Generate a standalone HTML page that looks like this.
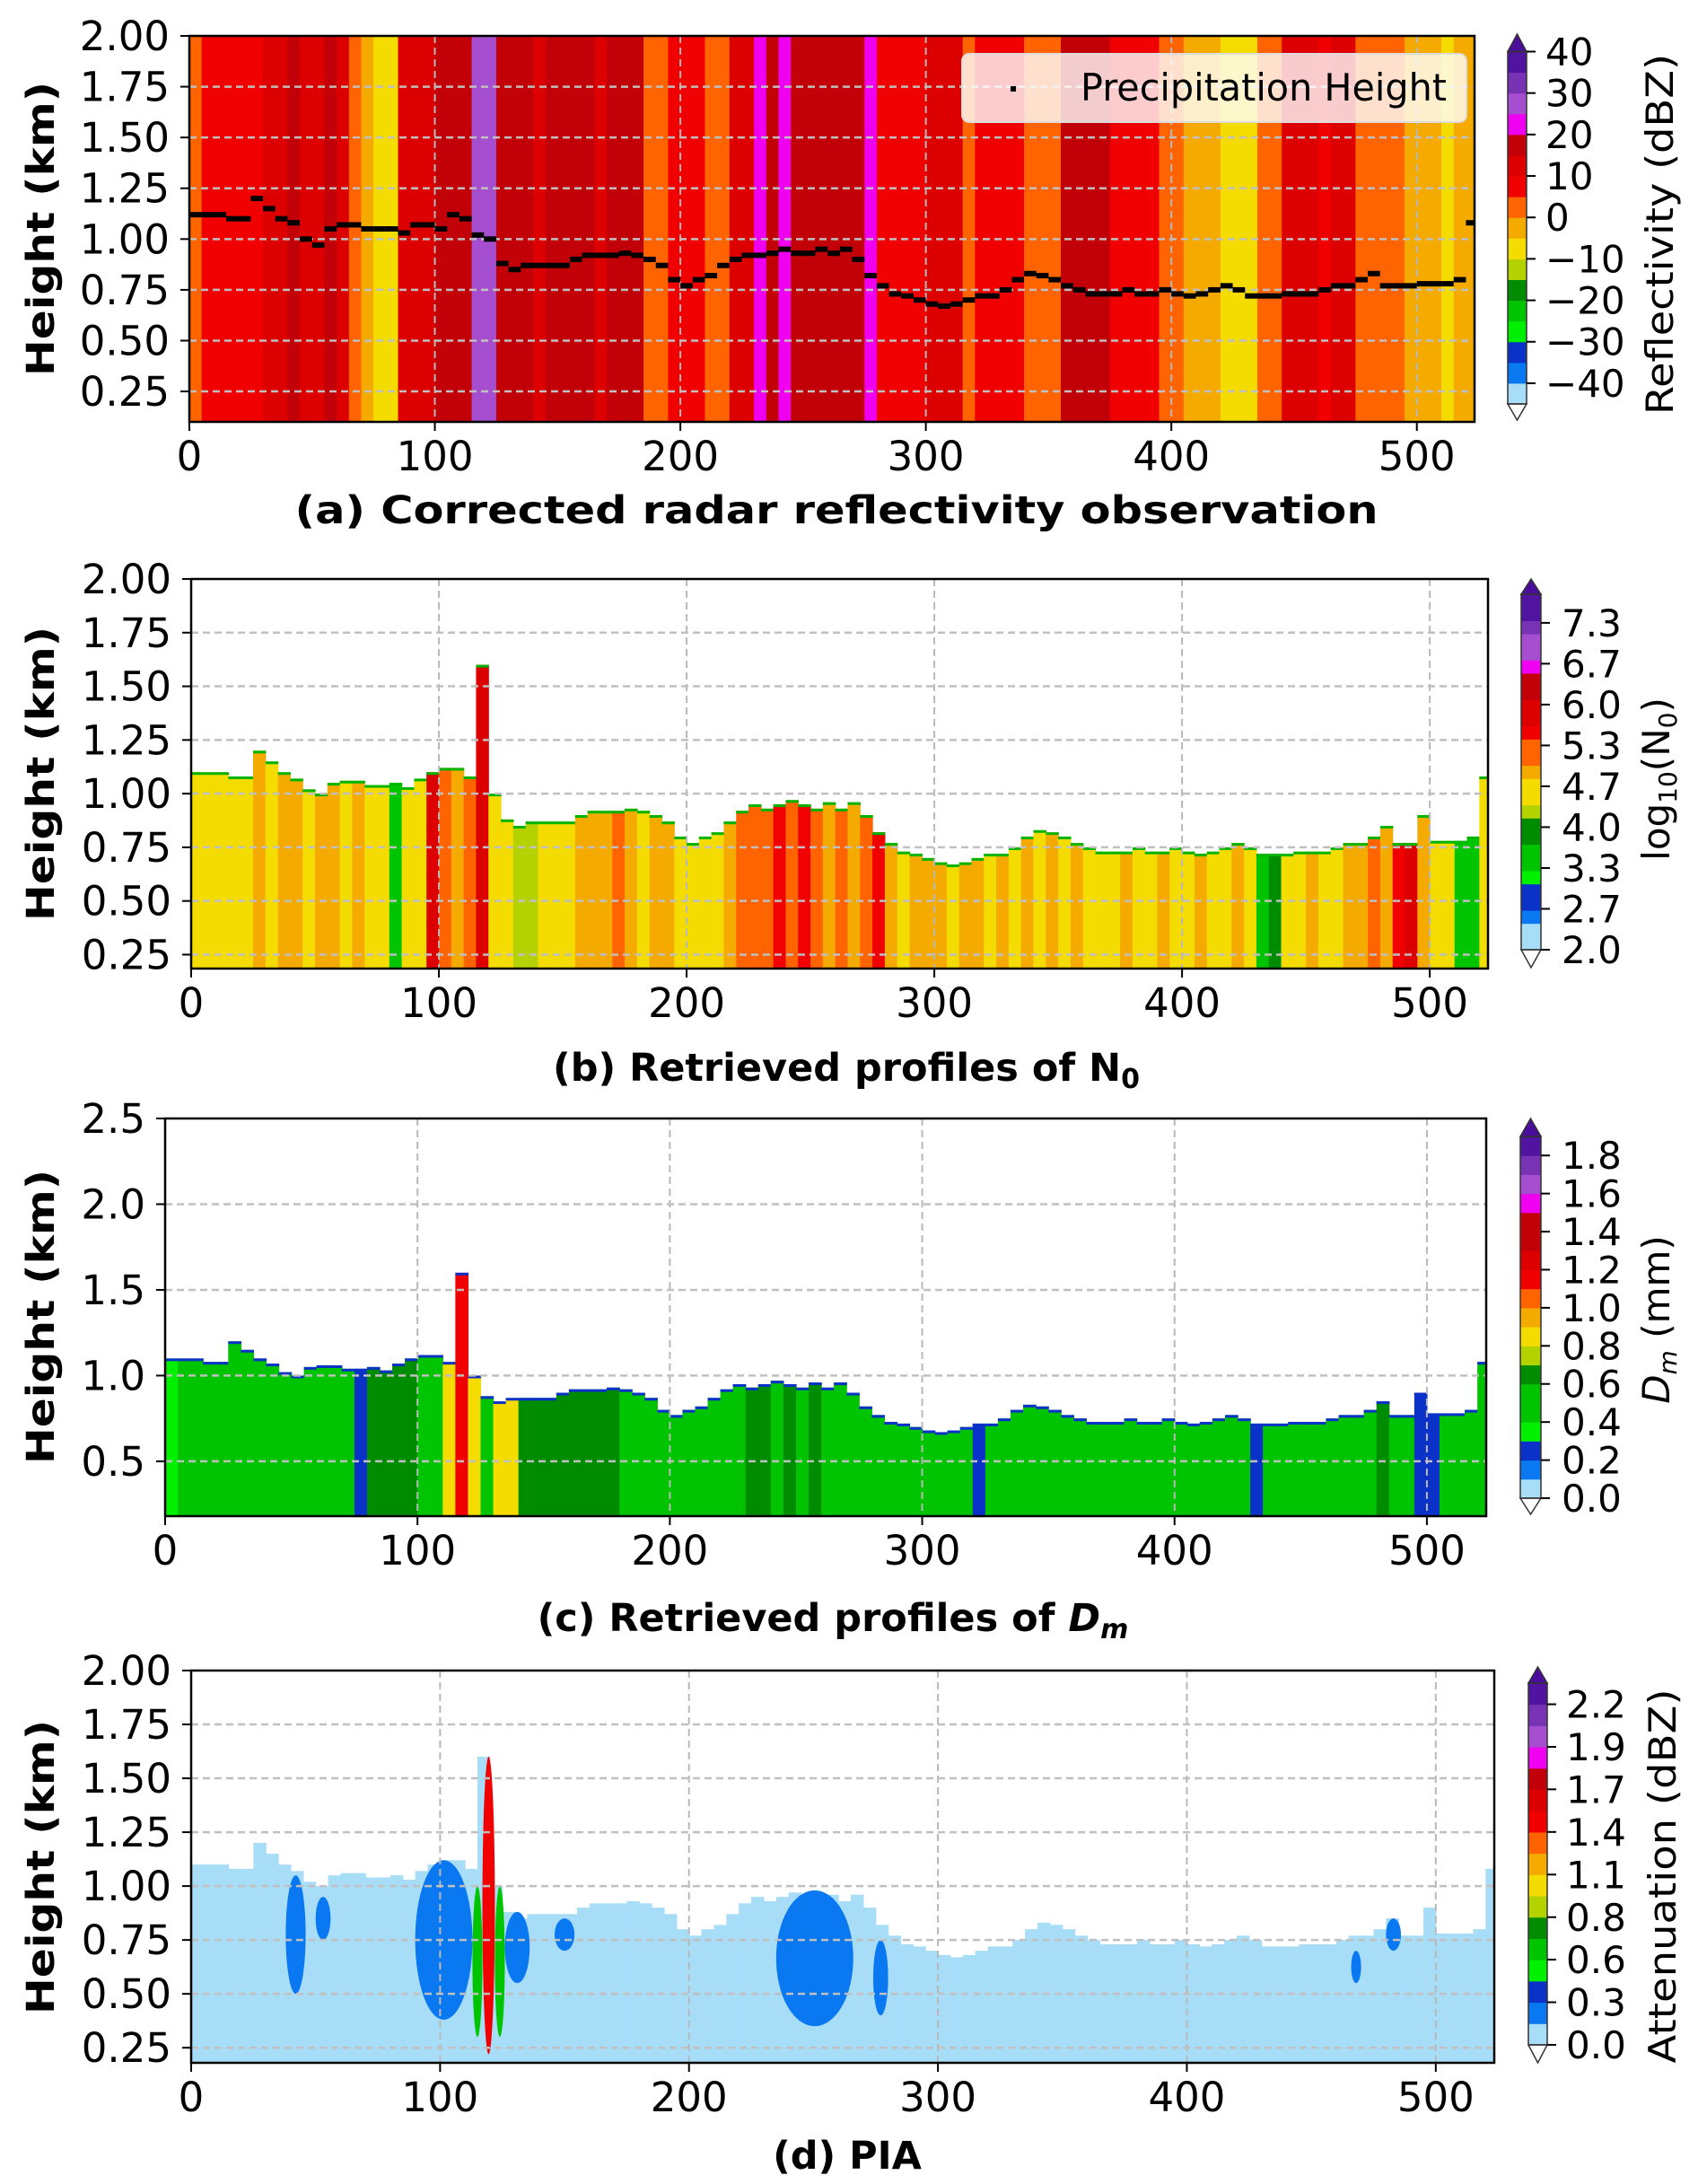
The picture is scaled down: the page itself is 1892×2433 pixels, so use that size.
<!DOCTYPE html>
<html>
<head>
<meta charset="utf-8">
<style>
html,body{margin:0;padding:0;background:#fff;}
svg{display:block;font-family:"DejaVu Sans","Liberation Sans",sans-serif;}
.tick{font-size:45px;fill:#000;}
.cbt{font-size:42px;fill:#000;}
.ttl{font-size:43px;font-weight:bold;fill:#000;}
</style>
</head>
<body>
<svg id="fig" width="1892" height="2433" viewBox="0 0 1892 2433" xmlns="http://www.w3.org/2000/svg">
  <g id="layer"></g>
  <!-- Titles -->
  <text class="ttl" x="932" y="583" text-anchor="middle" textLength="1207" lengthAdjust="spacingAndGlyphs">(a) Corrected radar reflectivity observation</text>
  <text class="ttl" x="943" y="1204" text-anchor="middle">(b) Retrieved profiles of N<tspan font-size="30" dy="8">0</tspan></text>
  <text class="ttl" x="928" y="1817" text-anchor="middle">(c) Retrieved profiles of <tspan font-style="italic">D</tspan><tspan font-style="italic" font-size="30" dy="8">m</tspan></text>
  <text class="ttl" x="944" y="2416" text-anchor="middle">(d) PIA</text>
  <!-- Y axis labels -->
  <text class="ttl" transform="translate(60,255) rotate(-90)" text-anchor="middle" textLength="328" lengthAdjust="spacingAndGlyphs">Height (km)</text>
  <text class="ttl" transform="translate(60,862) rotate(-90)" text-anchor="middle" textLength="328" lengthAdjust="spacingAndGlyphs">Height (km)</text>
  <text class="ttl" transform="translate(60,1467) rotate(-90)" text-anchor="middle" textLength="328" lengthAdjust="spacingAndGlyphs">Height (km)</text>
  <text class="ttl" transform="translate(60,2080) rotate(-90)" text-anchor="middle" textLength="328" lengthAdjust="spacingAndGlyphs">Height (km)</text>
  <!-- Colorbar labels -->
  <text class="cbt" transform="translate(1864,261) rotate(-90)" text-anchor="middle" textLength="402" lengthAdjust="spacingAndGlyphs">Reflectivity (dBZ)</text>
  <text class="cbt" transform="translate(1860,868) rotate(-90)" text-anchor="middle">log<tspan font-size="28" dy="8">10</tspan><tspan dy="-8">(N</tspan><tspan font-size="28" dy="8">0</tspan><tspan dy="-8">)</tspan></text>
  <text class="cbt" transform="translate(1860,1470) rotate(-90)" text-anchor="middle"><tspan font-style="italic">D</tspan><tspan font-style="italic" font-size="28" dy="8">m</tspan><tspan dy="-8"> (mm)</tspan></text>
  <text class="cbt" transform="translate(1867,2090) rotate(-90)" text-anchor="middle" textLength="417" lengthAdjust="spacingAndGlyphs">Attenuation (dBZ)</text>
</svg>
<script>
// ---------- DATA (5-unit bins from 0 to 523.5) ----------
const binStart = [0,5,10,15,20,25,30,35,40,45,50,55,60,65,70,75,80,85,90,95,100,105,110,115,120,125,130,135,140,145,150,155,160,165,170,175,180,185,190,195,200,205,210,215,220,225,230,235,240,245,250,255,260,265,270,275,280,285,290,295,300,305,310,315,320,325,330,335,340,345,350,355,360,365,370,375,380,385,390,395,400,405,410,415,420,425,430,435,440,445,450,455,460,465,470,475,480,485,490,495,500,505,510,515,520];
const reflectivity = [2,7,7,7,7,7,12,12,17,12,12,17,12,2,-3,-8,-8,12,12,12,17,17,17,27,27,17,17,17,12,17,17,17,17,12,17,17,17,2,2,7,7,7,2,2,12,12,22,17,22,17,17,17,17,17,17,22,7,7,7,7,12,12,12,2,7,7,7,7,2,2,2,17,17,17,17,7,7,7,7,2,2,-3,-3,-3,-8,-8,-8,2,2,12,12,12,7,12,12,2,2,2,2,-3,-3,-3,-8,-3,-3];
const precipHeight = [1.12,1.12,1.12,1.1,1.1,1.2,1.15,1.1,1.08,1.0,0.97,1.05,1.07,1.07,1.05,1.05,1.05,1.03,1.07,1.07,1.05,1.12,1.1,1.02,1.0,0.88,0.85,0.87,0.87,0.87,0.87,0.9,0.92,0.92,0.92,0.93,0.92,0.9,0.87,0.8,0.77,0.8,0.82,0.87,0.9,0.92,0.92,0.93,0.95,0.93,0.93,0.95,0.93,0.95,0.9,0.82,0.77,0.73,0.72,0.7,0.68,0.67,0.68,0.7,0.72,0.72,0.75,0.8,0.83,0.82,0.8,0.77,0.75,0.73,0.73,0.73,0.75,0.73,0.73,0.75,0.73,0.72,0.73,0.75,0.77,0.75,0.72,0.72,0.72,0.73,0.73,0.73,0.75,0.77,0.77,0.8,0.83,0.77,0.77,0.77,0.78,0.78,0.78,0.8,1.08];
const echoTop = [1.1,1.1,1.1,1.08,1.08,1.2,1.15,1.1,1.07,1.02,1.0,1.05,1.06,1.06,1.04,1.04,1.05,1.03,1.07,1.1,1.12,1.12,1.08,1.6,1.0,0.88,0.85,0.87,0.87,0.87,0.87,0.9,0.92,0.92,0.92,0.93,0.92,0.9,0.87,0.8,0.77,0.8,0.82,0.87,0.92,0.95,0.93,0.95,0.97,0.95,0.93,0.96,0.93,0.96,0.9,0.82,0.77,0.73,0.72,0.7,0.68,0.67,0.68,0.7,0.72,0.72,0.75,0.8,0.83,0.82,0.8,0.77,0.75,0.73,0.73,0.73,0.75,0.73,0.73,0.75,0.73,0.72,0.73,0.75,0.77,0.75,0.72,0.72,0.72,0.73,0.73,0.73,0.75,0.77,0.77,0.8,0.85,0.77,0.77,0.9,0.78,0.78,0.78,0.8,1.08];
const logN0 = [4.6,4.6,4.6,4.6,4.6,5.0,4.6,5.0,5.0,4.6,5.0,5.0,4.6,5.0,4.6,4.6,3.5,4.6,4.6,5.7,5.3,5.0,5.3,5.8,4.6,4.6,4.3,4.3,4.6,4.6,4.6,5.0,5.0,5.0,5.3,5.0,4.6,5.0,5.0,4.6,4.6,4.6,4.6,5.0,5.3,5.3,5.3,5.6,5.3,5.6,5.3,5.0,5.3,5.0,5.3,5.6,5.0,4.6,5.0,5.0,5.0,4.6,5.0,5.0,4.6,5.0,4.6,5.0,4.6,5.0,4.6,5.0,4.6,4.6,4.6,5.0,4.6,4.6,5.0,4.6,4.6,5.0,4.6,4.6,5.0,4.6,3.5,3.8,4.6,4.6,5.0,4.6,4.6,5.0,5.0,5.3,5.0,5.6,5.7,5.0,4.6,4.6,3.6,3.6,4.6];
const dmValues = [0.35,0.45,0.45,0.45,0.45,0.55,0.45,0.45,0.55,0.55,0.55,0.55,0.55,0.55,0.45,0.25,0.65,0.65,0.65,0.65,0.55,0.55,0.85,1.1,0.85,0.55,0.85,0.85,0.65,0.65,0.65,0.65,0.65,0.65,0.65,0.65,0.55,0.55,0.55,0.55,0.45,0.45,0.55,0.55,0.55,0.55,0.65,0.65,0.55,0.65,0.55,0.65,0.55,0.55,0.55,0.55,0.45,0.45,0.45,0.45,0.45,0.45,0.45,0.45,0.25,0.45,0.55,0.55,0.45,0.55,0.45,0.55,0.55,0.45,0.45,0.55,0.45,0.45,0.55,0.45,0.45,0.55,0.45,0.45,0.55,0.45,0.25,0.55,0.45,0.45,0.55,0.45,0.45,0.55,0.45,0.55,0.65,0.45,0.45,0.25,0.25,0.45,0.45,0.45,0.45];
const piaBase = 0.05;
const blobX0 = [38,50,90,113,117,122,126,146,235,274,466,480];
const blobX1 = [46,56,113,117,122,126,136,154,266,280,470,486];
const blobTop = [1.05,0.95,1.12,1.0,1.6,1.0,0.88,0.85,0.98,0.75,0.7,0.85];
const blobBottom = [0.5,0.75,0.38,0.3,0.22,0.3,0.55,0.7,0.35,0.4,0.55,0.7];
const blobValue = [0.2,0.2,0.2,0.6,1.5,0.6,0.2,0.2,0.2,0.2,0.2,0.2];

const xTicks = [0,100,200,300,400,500];
const yTicksAB = [0.25,0.5,0.75,1.0,1.25,1.5,1.75,2.0];
const yTickLabelsAB = ["0.25","0.50","0.75","1.00","1.25","1.50","1.75","2.00"];
const yTicksC = [0.5,1.0,1.5,2.0,2.5];
const yTickLabelsC = ["0.5","1.0","1.5","2.0","2.5"];
const cbTicksA = [-40,-30,-20,-10,0,10,20,30,40];
const cbLabelsA = ["\u221240","\u221230","\u221220","\u221210","0","10","20","30","40"];
const cbTicksB = [2.0,2.667,3.333,4.0,4.667,5.333,6.0,6.667,7.333];
const cbLabelsB = ["2.0","2.7","3.3","4.0","4.7","5.3","6.0","6.7","7.3"];
const cbTicksC = [0,0.2,0.4,0.6,0.8,1.0,1.2,1.4,1.6,1.8];
const cbLabelsC = ["0.0","0.2","0.4","0.6","0.8","1.0","1.2","1.4","1.6","1.8"];
const cbTicksD = [0,0.278,0.556,0.833,1.111,1.389,1.667,1.944,2.222];
const cbLabelsD = ["0.0","0.3","0.6","0.8","1.1","1.4","1.7","1.9","2.2"];

// ---------- STYLE ----------
const palette = ['#a8ddf8','#0a78f0','#0a32c8','#00f000','#00c400','#008c00','#b4d200','#f5dc00','#f5aa00','#ff6400','#f00000','#dc0000','#c20008','#f000f0','#a64ed0','#7832b4','#5014a0'];
const NS = "http://www.w3.org/2000/svg";
const layer = document.getElementById('layer');
const XMAX = 523.5;
function mk(tag, attrs){const e=document.createElementNS(NS,tag);for(const k in attrs)e.setAttribute(k,attrs[k]);layer.appendChild(e);return e;}

const panels = {
  a:{L:211,R:1643,T:40,B:470,ymin:0.1,ymax:2.0,vmin:-45,vmax:40,nseg:17,cbx:1680,cbw:21,cbTop:57.5,cbBot:450,tipT:38,tipB:468,labX:1722},
  b:{L:213,R:1658,T:645,B:1079,ymin:0.185,ymax:2.0,vmin:2.0,vmax:7.8,nseg:27,cbx:1695,cbw:22,cbTop:662,cbBot:1058,tipT:645,tipB:1078,labX:1740},
  c:{L:184,R:1656,T:1246,B:1689,ymin:0.18,ymax:2.5,vmin:0,vmax:1.9,nseg:19,cbx:1694,cbw:23,cbTop:1266,cbBot:1669,tipT:1246,tipB:1687,labX:1740},
  d:{L:213,R:1665,T:1861,B:2298,ymin:0.18,ymax:2.0,vmin:0,vmax:2.36,nseg:17,cbx:1703,cbw:21,cbTop:1875,cbBot:2278,tipT:1857,tipB:2298,labX:1745}
};
function xs(p,v){return p.L+v/XMAX*(p.R-p.L);}
function ys(p,v){return p.B-(v-p.ymin)/(p.ymax-p.ymin)*(p.B-p.T);}
function cmap(p,v){let k=Math.floor((v-p.vmin)/(p.vmax-p.vmin)*p.nseg);k=Math.max(0,Math.min(p.nseg-1,k));return palette[Math.min(16,Math.floor((k+0.5)*17/p.nseg))];}
function binEnd(i){return Math.min(binStart[i]+5,XMAX);}

// ---------- PANEL A ----------
(function(){const p=panels.a;
for(let i=0;i<binStart.length;i++){
  const x0=xs(p,binStart[i]),x1=xs(p,binEnd(i));
  const r=mk('rect',{x:x0,y:p.T,width:x1-x0+0.6,height:p.B-p.T,fill:cmap(p,reflectivity[i])});
  
  
}})();
// ---------- PANEL B ----------
(function(){const p=panels.b;
for(let i=0;i<binStart.length;i++){
  const x0=xs(p,binStart[i]),x1=xs(p,binEnd(i)),yt=ys(p,echoTop[i]);
  const r=mk('rect',{x:x0,y:yt,width:x1-x0+0.6,height:p.B-yt,fill:cmap(p,logN0[i])});
  
  
  const e=mk('rect',{x:x0,y:yt,width:x1-x0+0.6,height:3,fill:'#00b400'});
  
  
}})();
// ---------- PANEL C ----------
(function(){const p=panels.c;
for(let i=0;i<binStart.length;i++){
  const x0=xs(p,binStart[i]),x1=xs(p,binEnd(i)),yt=ys(p,echoTop[i]);
  const r=mk('rect',{x:x0,y:yt,width:x1-x0+0.6,height:p.B-yt,fill:cmap(p,dmValues[i])});
  
  
  const e=mk('rect',{x:x0,y:yt,width:x1-x0+0.6,height:3,fill:'#0a32c8'});
  
  
}})();
// ---------- PANEL D ----------
(function(){const p=panels.d;
for(let i=0;i<binStart.length;i++){
  const x0=xs(p,binStart[i]),x1=xs(p,binEnd(i)),yt=ys(p,echoTop[i]);
  const r=mk('rect',{x:x0,y:yt,width:x1-x0+0.6,height:p.B-yt,fill:cmap(p,piaBase)});
  
  
}
for(let j=0;j<blobX0.length;j++){
  const x0=xs(p,blobX0[j]),x1=xs(p,blobX1[j]),yt=ys(p,blobTop[j]),yb=ys(p,blobBottom[j]);
  const e=mk('ellipse',{cx:(x0+x1)/2,cy:(yt+yb)/2,rx:(x1-x0)/2,ry:(yb-yt)/2,fill:cmap(p,blobValue[j])});
  
  
}})();

// ---------- AXES, GRID, TICKS ----------
for(const key of ['a','b','c','d']){
  const p=panels[key];
  const yt = key==='c'?yTicksC:yTicksAB, yl = key==='c'?yTickLabelsC:yTickLabelsAB;
  for(const v of xTicks){
    const x=xs(p,v);
    if(v>0){const g=mk('line',{x1:x,y1:p.T,x2:x,y2:p.B,stroke:'#b8b8b8','stroke-width':2,'stroke-dasharray':'8,5'});
      
      }
    const t=mk('line',{x1:x,y1:p.B,x2:x,y2:p.B+10,stroke:'#000','stroke-width':2});
    
    
    const l=mk('text',{x:x,y:p.B+54,'text-anchor':'middle',class:'tick'});l.textContent=String(v);
    
    
  }
  yt.forEach((v,i)=>{
    const y=ys(p,v);
    if(y>p.T+2){const g=mk('line',{x1:p.L,y1:y,x2:p.R,y2:y,stroke:'#c0c0c0','stroke-width':2.5,'stroke-dasharray':'8,5'});
      
      }
    const t=mk('line',{x1:p.L-10,y1:y,x2:p.L,y2:y,stroke:'#000','stroke-width':2});
    
    
    const l=mk('text',{x:p.L-22,y:y+16,'text-anchor':'end',class:'tick'});l.textContent=yl[i];
    
    
  });
  const f=mk('rect',{x:p.L,y:p.T,width:p.R-p.L,height:p.B-p.T,fill:'none',stroke:'#000','stroke-width':2.5});
  
  
}

// ---------- PRECIPITATION HEIGHT MARKERS (panel a) ----------
(function(){const p=panels.a;
for(let i=0;i<binStart.length;i++){
  const x0=xs(p,binStart[i]),x1=xs(p,binEnd(i)),y=ys(p,precipHeight[i]);
  const m=mk('rect',{x:x0,y:y-3,width:x1-x0,height:6,fill:'#000'});
  
  
}
const lg=mk('rect',{x:1072,y:60,width:562,height:76,rx:8,fill:'#ffffff','fill-opacity':0.8,stroke:'#dddddd','stroke-width':2});


const ld=mk('rect',{x:1126,y:96,width:6,height:6,fill:'#000'});


const lt=mk('text',{x:1204,y:112,class:'cbt',textLength:408,lengthAdjust:'spacingAndGlyphs'});lt.textContent='Precipitation Height';


})();

// ---------- COLORBARS ----------
function colorbar(key,ticks,labels){
  const p=panels[key];const h=(p.cbBot-p.cbTop)/p.nseg;
  for(let k=0;k<p.nseg;k++){
    const v=p.vmin+(k+0.5)*(p.vmax-p.vmin)/p.nseg;
    const r=mk('rect',{x:p.cbx,y:p.cbBot-(k+1)*h,width:p.cbw,height:h+0.5,fill:cmap(p,v)});
    
    
  }
  const tt=mk('polygon',{points:`${p.cbx},${p.cbTop} ${p.cbx+p.cbw/2},${p.tipT} ${p.cbx+p.cbw},${p.cbTop}`,fill:'#4b0e9c',stroke:'#333','stroke-width':1.5});
  
  
  const tb=mk('polygon',{points:`${p.cbx},${p.cbBot} ${p.cbx+p.cbw/2},${p.tipB} ${p.cbx+p.cbw},${p.cbBot}`,fill:'#fff',stroke:'#333','stroke-width':1.5});
  
  
  const fr=mk('rect',{x:p.cbx,y:p.cbTop,width:p.cbw,height:p.cbBot-p.cbTop,fill:'none',stroke:'#333','stroke-width':1.5});
  
  
  ticks.forEach((v,i)=>{
    const y=p.cbBot-(v-p.vmin)/(p.vmax-p.vmin)*(p.cbBot-p.cbTop);
    const t=mk('line',{x1:p.cbx+p.cbw,y1:y,x2:p.cbx+p.cbw+10,y2:y,stroke:'#000','stroke-width':2});
    
    
    const l=mk('text',{x:p.labX,y:y+15,class:'cbt'});l.textContent=labels[i];
    
    
  });
}
colorbar('a',cbTicksA,cbLabelsA);
colorbar('b',cbTicksB,cbLabelsB);
colorbar('c',cbTicksC,cbLabelsC);
colorbar('d',cbTicksD,cbLabelsD);
</script>
</body>
</html>
